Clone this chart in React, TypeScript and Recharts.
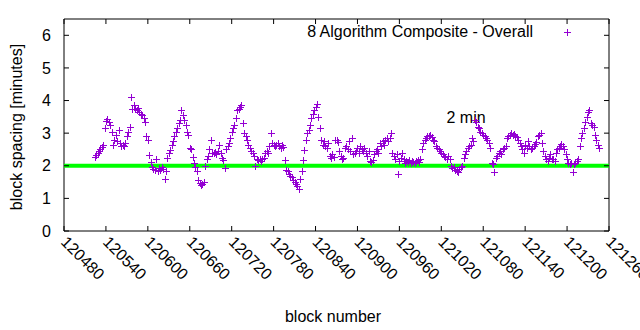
import { ScatterChart, Scatter, XAxis, YAxis, ReferenceLine, ReferenceArea } from "recharts";

const FIRST_BLOCK = 120524;
const BLOCK_STEP = 2;

// block spacing in minutes, every second block
const spacingPart1 = [
  2.28, 2.33, 2.4, 2.45, 2.52, 2.58, 2.65, 3.15, 3.38, 3.42,
  3.35, 3.25, 3.05, 2.65, 2.8, 2.95, 2.75, 3.1, 2.7, 2.62,
  2.65, 2.6, 2.7, 2.9, 3.05, 3.2, 4.1, 3.75, 3.85, 3.75,
  3.7, 3.78, 3.65, 3.6, 3.55, 3.45, 3.35, 2.9, 2.8, 2.33,
  2.12, 1.95, 1.9, 1.88, 2.2, 1.85, 1.92, 1.88, 1.95, 1.9,
  1.6, 1.85, 2.25, 2.4, 2.48, 2.64, 2.75, 2.9, 3.05, 3.15,
  3.3, 3.4, 3.7, 3.55, 3.4, 3.25, 3.05, 2.95, 2.55, 2.5,
  2.28, 2.1, 1.95, 1.85, 1.55, 1.48, 1.42, 1.45, 1.5, 2.0,
  2.2, 2.3, 2.5, 2.78, 2.4, 2.38, 2.42, 2.35, 2.45, 2.64,
];
const spacingPart2 = [
  2.4, 2.25, 2.18, 1.92, 2.5, 2.6, 2.7, 2.85, 3.05, 3.15,
  3.25, 3.45, 3.7, 3.75, 3.8, 3.85, 3.3, 3.0, 2.9, 2.8,
  2.65, 2.55, 2.45, 2.38, 2.3, 2.0, 2.22, 2.18, 2.2, 2.15,
  2.2, 2.25, 2.38, 2.45, 2.4, 2.6, 3.02, 2.7, 2.65, 2.6,
  2.65, 2.7, 2.62, 2.55, 2.65, 2.58, 2.18, 1.87, 1.85, 1.75,
  1.7, 1.65, 1.55, 1.5, 1.45, 1.38, 1.3, 1.6, 1.85, 2.18,
  2.48, 2.79, 3.0, 3.1, 3.25, 3.45, 3.6, 3.7, 3.8, 3.9,
  3.5, 3.15, 2.8, 2.65, 2.75, 2.6, 2.55, 2.7, 2.3, 2.25,
  2.35, 2.28, 2.78, 2.8, 2.72, 2.45, 2.3, 2.2, 2.25, 2.55,
];
const spacingPart3 = [
  2.6, 2.5, 2.75, 2.45, 2.85, 2.35, 2.4, 2.45, 2.55, 2.4,
  2.6, 2.5, 2.45, 2.55, 2.4, 2.3, 2.45, 2.15, 2.12, 2.18,
  2.35, 2.45, 2.5, 2.4, 2.7, 2.6, 2.75, 2.65, 2.8, 2.85,
  2.75, 2.85, 3.0, 2.4, 2.3, 2.2, 2.35, 1.75, 2.15, 2.25,
  2.4, 2.2, 2.1, 2.15, 2.12, 2.18, 2.1, 2.15, 2.12, 2.1,
  2.15, 2.18, 2.12, 2.2, 2.5, 2.7, 2.8, 2.85, 2.92, 2.9,
  2.95, 2.88, 2.8, 2.75, 2.6, 2.55, 2.5, 2.45, 2.4, 2.35,
  2.3, 2.28, 2.22, 2.3, 2.2, 1.98, 1.92, 1.95, 1.88, 1.85,
  1.8, 1.9, 1.95, 2.0, 2.25, 2.35, 2.45, 2.55, 2.6, 2.65,
];
const spacingPart4 = [
  2.85, 2.75, 3.4, 3.35, 3.2, 3.15, 3.05, 3.0, 2.95, 2.92,
  2.85, 2.8, 2.7, 2.55, 2.1, 2.05, 1.8, 2.25, 2.3, 2.4,
  2.45, 2.35, 2.5, 2.55, 2.6, 2.85, 2.9, 2.95, 3.0, 2.95,
  2.98, 2.92, 2.88, 2.8, 2.7, 2.6, 2.5, 2.4, 2.65, 2.55,
  2.75, 2.6, 2.5, 2.55, 2.62, 2.68, 2.72, 2.9, 2.95, 3.0,
  2.7, 2.45, 2.3, 2.2, 2.15, 2.25, 2.35, 2.2, 2.22, 2.15,
  2.4, 2.5, 2.55, 2.62, 2.68, 2.6, 2.5, 2.35, 2.2, 2.1,
  2.05, 2.1, 1.8, 2.05, 2.1, 2.15, 2.2, 2.6, 2.85, 3.0,
  3.15, 3.35, 3.5, 3.65, 3.7, 3.3, 3.25, 3.2, 2.95, 2.8,
  2.65, 2.55,
];

const blockSpacing = [...spacingPart1, ...spacingPart2, ...spacingPart3, ...spacingPart4];
const points = blockSpacing.map((minutes, i) => ({ block: FIRST_BLOCK + i * BLOCK_STEP, minutes }));

const blockTicks = [
  120480, 120540, 120600, 120660, 120720, 120780, 120840,
  120900, 120960, 121020, 121080, 121140, 121200, 121260,
];
const minuteTicks = [0, 1, 2, 3, 4, 5, 6];
const TARGET_MINUTES = 2;

const FONT = '"Liberation Sans", Arial, sans-serif';
const PURPLE = "#9400d3";
const PLOT_W = 545;
const PLOT_H = 212;

function Cross({ cx, cy }: any) {
  if (cx == null || cy == null) return null;
  const x = Math.round(cx) + 0.5;
  const y = Math.round(cy) + 0.5;
  return (
    <path
      d={`M${x - 3.5},${y}h7M${x},${y - 3.5}v7`}
      stroke={PURPLE}
      strokeWidth={1}
      fill="none"
      shapeRendering="crispEdges"
    />
  );
}

function BlockTick({ x, y, payload }: any) {
  const tx = x - 4;
  const ty = y + 12;
  return (
    <g>
      <line x1={x} x2={x} y1={y} y2={y - 5} stroke="#000" />
      <line x1={x} x2={x} y1={y - PLOT_H} y2={y - PLOT_H + 5} stroke="#000" />
      <text x={tx} y={ty} transform={`rotate(45 ${tx} ${ty})`} fontSize={16} fontFamily={FONT} fill="#000">
        {payload.value}
      </text>
    </g>
  );
}

function MinuteTick({ x, y, payload }: any) {
  return (
    <g>
      <line x1={x} x2={x + 5} y1={y} y2={y} stroke="#000" />
      <line x1={x + PLOT_W} x2={x + PLOT_W - 5} y1={y} y2={y} stroke="#000" />
      <text x={x - 13} y={y} dy="0.35em" textAnchor="end" fontSize={16} fontFamily={FONT} fill="#000">
        {payload.value}
      </text>
    </g>
  );
}

export default function App() {
  return (
    <div style={{ position: "absolute", left: 0, top: 0, width: 640, height: 330, background: "#fff" }}>
      <ScatterChart width={640} height={330} margin={{ top: 19, right: 31, left: 0, bottom: 0 }}>
        <XAxis
          dataKey="block"
          type="number"
          domain={[120480, 121260]}
          ticks={blockTicks}
          interval={0}
          tickSize={0}
          tickMargin={0}
          axisLine={false}
          tick={<BlockTick />}
          height={99}
        />
        <YAxis
          dataKey="minutes"
          type="number"
          domain={[0, 6.5]}
          ticks={minuteTicks}
          interval={0}
          tickSize={0}
          tickMargin={0}
          axisLine={false}
          tick={<MinuteTick />}
          width={64}
        />
        <ReferenceArea x1={120480} x2={121260} y1={0} y2={6.5} fill="none" stroke="#000" strokeWidth={1} />
        <Scatter data={points} shape={(p: any) => <Cross {...p} />} isAnimationActive={false} />
        <ReferenceLine y={TARGET_MINUTES} stroke="#00ff00" strokeWidth={4} />
        <text x={533} y={37} textAnchor="end" fontSize={16} fontFamily={FONT} fill="#000">
          8 Algorithm Composite - Overall
        </text>
        <path d="M564,32.5h7M567.5,29v7" stroke={PURPLE} strokeWidth={1} fill="none" shapeRendering="crispEdges" />
        <text x={446.5} y={122.5} fontSize={16} fontFamily={FONT} fill="#000">
          2 min
        </text>
        <text x={22} y={127} transform="rotate(-90 22 127)" textAnchor="middle" fontSize={16} fontFamily={FONT} fill="#000">
          block spacing [minutes]
        </text>
        <text x={333} y={322} textAnchor="middle" fontSize={16} fontFamily={FONT} fill="#000">
          block number
        </text>
      </ScatterChart>
    </div>
  );
}
